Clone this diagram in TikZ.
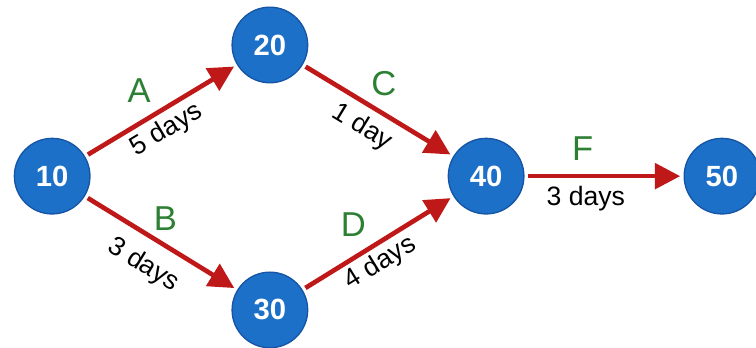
\documentclass[tikz,border=0pt]{standalone}
\usepackage{fontspec}
\setmainfont{Liberation Sans}
\usetikzlibrary{positioning}
\usetikzlibrary{arrows.meta}

\definecolor{eventblue}{RGB}{28,112,200}
\definecolor{eventedge}{RGB}{22,84,165}
\definecolor{actred}{RGB}{190,24,24}
\definecolor{actgreen}{RGB}{44,128,52}

\tikzset{
  event/.style={circle, fill=eventblue, draw=eventedge, line width=1pt,
    minimum size=2cm, outer sep=3pt, text=white,
    font=\fontsize{22}{22}\selectfont\bfseries},
  act/.style={draw=actred, line width=3.5pt, -{Triangle[length=19pt,width=19pt]}},
  actname/.style={text=actgreen, font=\fontsize{26}{26}\selectfont, inner sep=0pt},
  dur/.style={font=\fontsize{20}{20}\selectfont, inner sep=0pt, sloped}
}

\begin{document}
\begin{tikzpicture}
  \useasboundingbox (0,0) rectangle (20,9.18);

  % Events
  \node[event] (n10) at (1.38,4.52) {10};
  \node[event] (n20) at (7.14,7.99) {20};
  \node[event] (n30) at (7.14,0.98) {30};
  \node[event] (n40) at (12.86,4.52) {40};
  \node[event] (n50) at (19.10,4.52) {50};

  % Activities
  \draw[act] (n10) -- node[actname, pos=0.35, above=14pt] {A}
    node[dur, pos=0.47, below=3.8pt] {5 days} (n20);
  \draw[act] (n10) -- node[actname, pos=0.53, above=9.5pt] {B}
    node[dur, pos=0.48, below=10pt] {3 days} (n30);
  \draw[act] (n20) -- node[actname, pos=0.54, above=12pt] {C}
    node[dur, pos=0.47, below=6pt] {1 day} (n40);
  \draw[act] (n30) -- node[actname, pos=0.33, above=15pt] {D}
    node[dur, pos=0.45, below=3pt] {4 days} (n40);
  \draw[act] (n40) -- node[actname, pos=0.36, above=10pt] {F}
    node[dur, pos=0.38, below=6pt] {3 days} (n50);

\end{tikzpicture}
\end{document}
